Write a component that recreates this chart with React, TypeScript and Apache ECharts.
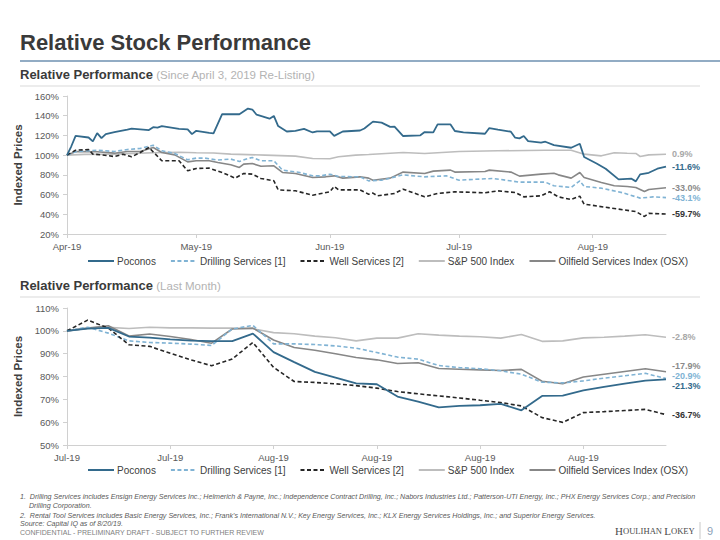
import React, { useEffect, useRef } from "react";
import * as echarts from "echarts";

// ---------- DATA ----------
const seriesNames = [
  "Poconos",
  "Drilling Services [1]",
  "Well Services [2]",
  "S&P 500 Index",
  "Oilfield Services Index (OSX)",
];

// Top chart: since April 3, 2019 re-listing (month/day, indexed value)
const topStart = "4/3";
const topEnd = "8/20";
const topTickDates = ["4/3", "5/3", "6/3", "7/3", "8/3"];
const topTickLabels = ["Apr-19", "May-19", "Jun-19", "Jul-19", "Aug-19"];

const topPoconos: [string, number][] = [
  ["4/3", 100], ["4/4", 109], ["4/5", 119.6], ["4/8", 117.9], ["4/9", 114], ["4/10", 122.3],
  ["4/11", 117.2], ["4/12", 121.3], ["4/14", 123.3], ["4/17", 126], ["4/18", 127], ["4/22", 125.4],
  ["4/23", 128.4], ["4/24", 128], ["4/25", 129.4], ["4/29", 126.7], ["5/1", 126.2], ["5/2", 121.3],
  ["5/3", 124.7], ["5/6", 122.5], ["5/7", 122], ["5/9", 141.5], ["5/13", 141.5], ["5/15", 147.3],
  ["5/16", 146.3], ["5/17", 141], ["5/20", 137], ["5/21", 139.8], ["5/22", 129.5], ["5/24", 124],
  ["5/26", 124.7], ["5/28", 126.6], ["5/30", 123], ["5/31", 124.2], ["6/3", 124.2], ["6/4", 119.5],
  ["6/6", 124], ["6/10", 125], ["6/11", 127], ["6/13", 134], ["6/15", 133], ["6/17", 128.7],
  ["6/18", 129], ["6/20", 119.4], ["6/24", 120.1], ["6/25", 123.4], ["6/27", 123.1], ["6/28", 131.2],
  ["7/1", 131.2], ["7/2", 124.5], ["7/4", 123.1], ["7/9", 121.7], ["7/10", 127.5], ["7/12", 125.8],
  ["7/15", 123.8], ["7/16", 117.7], ["7/17", 117], ["7/18", 119.4], ["7/19", 114.3], ["7/22", 112.6],
  ["7/23", 113.6], ["7/25", 110.2], ["7/29", 107.5], ["7/31", 111.6], ["8/1", 98.1], ["8/4", 91.3],
  ["8/6", 86.2], ["8/9", 75.4], ["8/12", 76.1], ["8/13", 73.4], ["8/14", 80.5], ["8/16", 82.1],
  ["8/18", 86.2], ["8/20", 88.4],
];

const topDrilling: [string, number][] = [
  ["4/3", 100], ["4/5", 103.4], ["4/8", 104.4], ["4/10", 105], ["4/14", 103.7], ["4/17", 105.7],
  ["4/20", 106.8], ["4/23", 110.1], ["4/25", 104.4], ["4/28", 101.7], ["5/1", 95.3], ["5/3", 97],
  ["5/5", 97], ["5/8", 95], ["5/11", 96], ["5/13", 93.6], ["5/15", 96.6], ["5/16", 97.6],
  ["5/18", 94.3], ["5/21", 94.3], ["5/23", 84.8], ["5/27", 82.4], ["5/30", 79], ["6/1", 79],
  ["6/3", 80.7], ["6/5", 78.4], ["6/10", 78], ["6/12", 73.9], ["6/15", 74.6], ["6/17", 76.7],
  ["6/20", 80], ["6/25", 78], ["6/30", 79], ["7/3", 74.6], ["7/9", 76], ["7/11", 76.3],
  ["7/17", 72.6], ["7/23", 72.6], ["7/25", 68.9], ["7/29", 67.2], ["7/31", 74], ["8/1", 68.2],
  ["8/5", 66.5], ["8/10", 61.8], ["8/14", 56.4], ["8/17", 57.7], ["8/20", 56.9],
];

const topWell: [string, number][] = [
  ["4/3", 100], ["4/5", 105], ["4/8", 105.7], ["4/9", 101], ["4/11", 100.3], ["4/14", 98.6],
  ["4/16", 101], ["4/18", 98.3], ["4/20", 102.7], ["4/22", 107.8], ["4/25", 94.3], ["4/29", 94.3],
  ["5/1", 84.1], ["5/3", 86.5], ["5/6", 86.8], ["5/9", 82.4], ["5/12", 76.7], ["5/14", 81.4],
  ["5/16", 80.7], ["5/18", 76.3], ["5/21", 74], ["5/22", 64.8], ["5/26", 63.8], ["5/30", 59.4],
  ["6/3", 62.8], ["6/4", 68.2], ["6/5", 64.8], ["6/10", 64.8], ["6/12", 60.4], ["6/13", 61.5],
  ["6/14", 58.7], ["6/18", 61.1], ["6/20", 65.5], ["6/25", 57.7], ["6/28", 61.1], ["7/2", 62.8],
  ["7/9", 61.8], ["7/12", 63.8], ["7/16", 62.1], ["7/18", 57.7], ["7/22", 58.7], ["7/24", 62.8],
  ["7/26", 57.7], ["7/29", 55], ["7/31", 58.4], ["8/1", 50.3], ["8/9", 45.2], ["8/13", 42.8],
  ["8/15", 37.8], ["8/16", 40.9], ["8/20", 40.3],
];

const topSP500: [string, number][] = [
  ["4/3", 100], ["4/7", 100.8], ["4/14", 101], ["4/23", 102.4], ["4/29", 103], ["5/3", 102.4],
  ["5/7", 102.2], ["5/11", 101], ["5/19", 100], ["5/26", 99], ["5/30", 96.6], ["6/3", 96.3],
  ["6/5", 98.3], ["6/9", 100], ["6/12", 100.7], ["6/20", 102.7], ["6/25", 101.7], ["7/3", 103.7],
  ["7/12", 104.4], ["7/23", 105], ["7/29", 105], ["8/1", 101], ["8/5", 99.3], ["8/8", 102.4],
  ["8/11", 101.9], ["8/13", 101.7], ["8/14", 98.6], ["8/16", 100.3], ["8/20", 100.9],
];

const topOSX: [string, number][] = [
  ["4/3", 100], ["4/5", 103.7], ["4/10", 103.4], ["4/14", 102], ["4/17", 103.7], ["4/20", 103.7],
  ["4/23", 107.8], ["4/25", 102.7], ["4/28", 100.3], ["5/1", 93.2], ["5/3", 94.3], ["5/6", 94.3],
  ["5/8", 92.6], ["5/11", 90.2], ["5/13", 87.5], ["5/14", 90.9], ["5/16", 91.5], ["5/18", 88.8],
  ["5/21", 89.2], ["5/23", 82.4], ["5/26", 81.4], ["5/30", 77.3], ["6/2", 78], ["6/4", 79],
  ["6/6", 76.7], ["6/10", 78], ["6/12", 76.7], ["6/13", 74.6], ["6/17", 76.7], ["6/20", 82.8],
  ["6/25", 81.4], ["6/27", 83.8], ["7/1", 84.8], ["7/2", 82.8], ["7/9", 83.4], ["7/10", 84.8],
  ["7/15", 82.8], ["7/17", 78.7], ["7/22", 80.7], ["7/25", 81.7], ["7/26", 80], ["7/29", 76.7],
  ["7/31", 82.4], ["8/1", 77.3], ["8/5", 72.3], ["8/8", 68.9], ["8/11", 68.2], ["8/13", 67.2],
  ["8/15", 63.1], ["8/16", 65.2], ["8/20", 67],
];

// Bottom chart: last month
const bottomDates = [
  "7/22", "7/23", "7/24", "7/25", "7/26", "7/27", "7/28", "7/29", "7/30", "7/31",
  "8/1", "8/2", "8/3", "8/4", "8/5", "8/6", "8/7", "8/8", "8/9", "8/10",
  "8/11", "8/12", "8/13", "8/14", "8/15", "8/16", "8/17", "8/18", "8/19", "8/20",
];
const bottomPoconos = [100, 101, 101.3, 97.5, 97, 96.3, 95.7, 95.5, 95.5, 98.8, 90.7, 86.3, 82, 79.5, 77, 76.6, 71.2, 69, 66.5, 67.1, 67.4, 68, 65.2, 71.5, 71.6, 73.9, 75.5, 76.9, 78.2, 78.7];
const bottomDrilling = [100, 101.6, 99, 95.6, 94.9, 94.6, 94.2, 93.6, 100.8, 102.4, 94.3, 94.3, 94, 93.4, 92.4, 90.5, 88.5, 87.6, 84.8, 83.9, 83.4, 82.5, 81, 77.5, 77.2, 78.1, 79.3, 80.3, 81.4, 79.1];
const bottomWell = [100, 104.7, 101.2, 93.9, 93.2, 90.2, 87.3, 84.7, 87.7, 94.9, 84, 77.8, 77.4, 76.8, 76, 74.9, 73.4, 72.4, 71.5, 70.6, 69.6, 68.6, 67.1, 62, 59.9, 64.2, 64.6, 65.1, 65.6, 63.3];
const bottomSP500 = [100, 101.2, 101.5, 101, 101.6, 101.3, 101.3, 101.2, 101.2, 100.9, 99.2, 98.7, 97.7, 97, 95.6, 96.8, 96.8, 98.7, 98.1, 97.7, 97.4, 96.8, 98.4, 95.4, 95.6, 96.9, 97.2, 97.7, 98.3, 97.2];
const bottomOSX = [100, 101.2, 102.2, 97.7, 98.6, 97.5, 96.2, 94.6, 100.8, 101.2, 96, 92.7, 91.5, 90, 88.3, 87.3, 85.7, 86, 83.5, 83.2, 82.9, 82.6, 83.1, 77.9, 76.8, 79.8, 81, 82.2, 83.4, 82.1];

const footnotes = [
  "1.  Drilling Services includes Ensign Energy Services Inc.; Helmerich & Payne, Inc.; Independence Contract Drilling, Inc.; Nabors Industries Ltd.; Patterson-UTI Energy, Inc.; PHX Energy Services Corp.; and Precision",
  "Drilling Corporation.",
  "2.  Rental Tool Services includes Basic Energy Services, Inc.; Frank's International N.V.; Key Energy Services, Inc.; KLX Energy Services Holdings, Inc.; and Superior Energy Services.",
  "Source: Capital IQ as of 8/20/19.",
];

// ---------- STYLES ----------
const FONT = "'Liberation Sans', Arial, Helvetica, sans-serif";
const colors = ["#336a8c", "#80b3d4", "#262626", "#bdbdbd", "#878787"];
const lineTypes: any[] = ["solid", [4, 2.5], [4, 2.5], "solid", "solid"];
const widths = [1.8, 1.6, 1.6, 1.6, 1.6];
const labelColors = ["#336a8c", "#80b3d4", "#333333", "#a8a8a8", "#8a8a8a"];
const monthNames = ["Jan", "Feb", "Mar", "Apr", "May", "Jun", "Jul", "Aug", "Sep", "Oct", "Nov", "Dec"];

function toUTC(md: string) {
  const [m, d] = md.split("/").map(Number);
  return Date.UTC(2019, m - 1, d);
}
const DAY = 86400000;
function dayOf(md: string) {
  return Math.round((toUTC(md) - toUTC(topStart)) / DAY);
}
function pctLabel(v: any) {
  const y = Array.isArray(v) ? v[1] : v;
  return (y - 100).toFixed(1) + "%";
}

export default function App() {
  const ref = useRef<HTMLDivElement>(null);

  useEffect(() => {
    if (!ref.current) return;
    const chart = echarts.init(ref.current, undefined, { renderer: "svg" });

    const topData = [topPoconos, topDrilling, topWell, topSP500, topOSX];
    const bottomData = [bottomPoconos, bottomDrilling, bottomWell, bottomSP500, bottomOSX];
    const bottomOffsets = [6.5, -2.5, 0, 0, -6];
    const order = [3, 4, 1, 2, 0]; // draw order: light lines first, Poconos on top

    const series: any[] = [];
    order.forEach((i) => {
      const common = {
        name: seriesNames[i],
        type: "line",
        symbol: "none",
        z: 2 + (i === 0 ? 3 : 0),
        lineStyle: { color: colors[i], width: widths[i], type: lineTypes[i] },
        itemStyle: { color: colors[i] },
      };
      const labelBase = {
        show: true,
        formatter: (p: any) => pctLabel(p.value),
        color: labelColors[i],
        fontFamily: FONT,
        fontSize: 9,
        fontWeight: "bold",
        distance: 6,
      };
      series.push({
        ...common,
        xAxisIndex: 0,
        yAxisIndex: 0,
        data: topData[i].map(([d, v]) => [dayOf(d), v]),
        endLabel: { ...labelBase },
      });
      series.push({
        ...common,
        xAxisIndex: 1,
        yAxisIndex: 1,
        data: bottomData[i],
        endLabel: { ...labelBase, offset: [0, bottomOffsets[i]] },
      });
    });

    const axisLabelStyle = { color: "#595959", fontSize: 9.5, fontFamily: FONT };
    const axisLineStyle = { lineStyle: { color: "#d0d0d0", width: 1 } };
    const yNameStyle = { color: "#404040", fontSize: 11.5, fontWeight: "bold", fontFamily: FONT };

    const legendBase = {
      data: seriesNames,
      left: 82,
      itemWidth: 26,
      itemHeight: 10,
      itemGap: 14,
      itemStyle: { opacity: 0 },
      textStyle: { color: "#404040", fontSize: 10, fontFamily: FONT, padding: [0, 0, 0, -2] },
      selectedMode: false,
    };

    const tickDays = topTickDates.map(dayOf);

    const fnStyle = { fill: "#595959", fontSize: 7.1, fontStyle: "italic", fontFamily: FONT };

    chart.setOption({
      animation: false,
      backgroundColor: "#ffffff",
      textStyle: { fontFamily: FONT },
      grid: [
        { left: 67, top: 96, width: 599, height: 138 },
        { left: 67, top: 308, width: 599, height: 137 },
      ],
      xAxis: [
        {
          type: "value",
          gridIndex: 0,
          min: 0,
          max: dayOf(topEnd),
          splitLine: { show: false },
          axisLine: axisLineStyle,
          axisTick: { show: true, customValues: tickDays, length: 4, lineStyle: { color: "#d0d0d0" } },
          axisLabel: {
            ...axisLabelStyle,
            margin: 7,
            customValues: tickDays,
            formatter: (v: number) => {
              const idx = tickDays.indexOf(Math.round(v));
              return idx >= 0 ? topTickLabels[idx] : "";
            },
          },
        },
        {
          type: "category",
          gridIndex: 1,
          boundaryGap: false,
          data: bottomDates,
          axisLine: axisLineStyle,
          axisTick: { show: true, interval: 4, length: 4, lineStyle: { color: "#d0d0d0" } },
          axisLabel: {
            ...axisLabelStyle,
            margin: 7,
            interval: 4,
            formatter: (v: string) => monthNames[Number(v.split("/")[0]) - 1] + "-19",
          },
        },
      ],
      yAxis: [
        {
          type: "value",
          gridIndex: 0,
          min: 20,
          max: 160,
          interval: 20,
          name: "Indexed Prices",
          nameLocation: "middle",
          nameGap: 42,
          nameRotate: 90,
          nameTextStyle: yNameStyle,
          splitLine: { show: false },
          axisLine: { show: true, ...axisLineStyle },
          axisTick: { show: true, length: 4, lineStyle: { color: "#d0d0d0" } },
          axisLabel: { ...axisLabelStyle, margin: 8, formatter: "{value}%" },
        },
        {
          type: "value",
          gridIndex: 1,
          min: 50,
          max: 110,
          interval: 10,
          name: "Indexed Prices",
          nameLocation: "middle",
          nameGap: 42,
          nameRotate: 90,
          nameTextStyle: yNameStyle,
          splitLine: { show: false },
          axisLine: { show: true, ...axisLineStyle },
          axisTick: { show: true, length: 4, lineStyle: { color: "#d0d0d0" } },
          axisLabel: { ...axisLabelStyle, margin: 8, formatter: "{value}%" },
        },
      ],
      legend: [
        { ...legendBase, top: 251 },
        { ...legendBase, top: 460 },
      ],
      series,
      graphic: [
        {
          type: "text",
          left: 20,
          top: 31,
          style: { text: "Relative Stock Performance", fill: "#3a3a3a", fontSize: 22, fontWeight: "bold", fontFamily: FONT },
        },
        { type: "line", shape: { x1: 20, y1: 61, x2: 720, y2: 61 }, style: { stroke: "#6e90b0", lineWidth: 1.5 } },
        {
          type: "text",
          left: 20,
          top: 68,
          style: {
            text: "{a|Relative Performance} {b|(Since April 3, 2019 Re-Listing)}",
            rich: {
              a: { fill: "#3a3a3a", fontSize: 13, fontWeight: "bold", fontFamily: FONT },
              b: { fill: "#b3b3b3", fontSize: 11.5, fontFamily: FONT },
            },
          },
        },
        { type: "line", shape: { x1: 20, y1: 86, x2: 700, y2: 86 }, style: { stroke: "#d9d9d9", lineWidth: 1 } },
        {
          type: "text",
          left: 20,
          top: 279,
          style: {
            text: "{a|Relative Performance} {b|(Last Month)}",
            rich: {
              a: { fill: "#3a3a3a", fontSize: 13, fontWeight: "bold", fontFamily: FONT },
              b: { fill: "#b3b3b3", fontSize: 11.5, fontFamily: FONT },
            },
          },
        },
        { type: "line", shape: { x1: 20, y1: 297, x2: 700, y2: 297 }, style: { stroke: "#d9d9d9", lineWidth: 1 } },
        { type: "text", x: 20, y: 497, style: { ...fnStyle, text: footnotes[0], verticalAlign: "middle" } },
        { type: "text", x: 29, y: 506, style: { ...fnStyle, text: footnotes[1], verticalAlign: "middle" } },
        { type: "text", x: 20, y: 516, style: { ...fnStyle, text: footnotes[2], verticalAlign: "middle" } },
        { type: "text", x: 20, y: 524, style: { ...fnStyle, text: footnotes[3], verticalAlign: "middle" } },
        {
          type: "text",
          x: 20,
          y: 532,
          style: {
            text: "CONFIDENTIAL - PRELIMINARY DRAFT - SUBJECT TO FURTHER REVIEW",
            fill: "#808080",
            fontSize: 7,
            fontFamily: FONT,
            verticalAlign: "middle",
          },
        },
        {
          type: "text",
          x: 615,
          y: 531,
          style: {
            text: "{a|H}{b|OULIHAN }{a|L}{b|OKEY}",
            verticalAlign: "middle",
            rich: {
              a: { fill: "#4a4a4a", fontSize: 11, fontFamily: "'Liberation Serif', 'DejaVu Serif', serif" },
              b: { fill: "#4a4a4a", fontSize: 8.6, fontFamily: "'Liberation Serif', 'DejaVu Serif', serif" },
            },
          },
        },
        { type: "line", shape: { x1: 700, y1: 522, x2: 700, y2: 539 }, style: { stroke: "#c8c8c8", lineWidth: 1 } },
        {
          type: "text",
          x: 707,
          y: 531,
          style: { text: "9", fill: "#8da2b8", fontSize: 11, fontFamily: FONT, verticalAlign: "middle" },
        },
      ],
    });

    return () => chart.dispose();
  }, []);

  return (
    <div
      ref={ref}
      style={{ position: "fixed", left: 0, top: 0, width: 720, height: 540, background: "#fff" }}
    />
  );
}
